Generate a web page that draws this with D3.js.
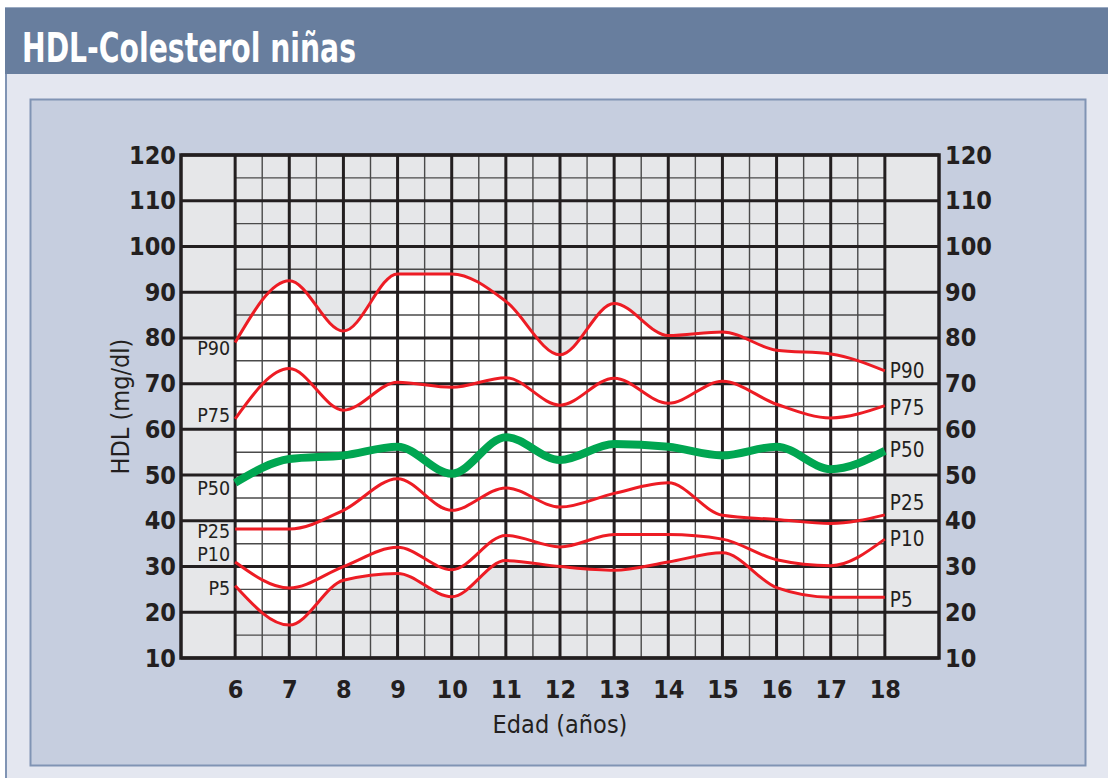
<!DOCTYPE html>
<html>
<head>
<meta charset="utf-8">
<script src="https://cdn.jsdelivr.net/npm/d3@7"></script>
<style>
  body { margin: 0; background: #fff; }
  svg text { font-family: "Liberation Sans Narrow", "DejaVu Sans Condensed", "Roboto", sans-serif; }
</style>
</head>
<body>
<script>
// data
var ages = [6, 7, 8, 9, 10, 11, 12, 13, 14, 15, 16, 17, 18];
var p90 = [79, 92.5, 81.5, 94, 94, 88, 76.3, 87.5, 80.5, 81.3, 77.3, 76.5, 72.8];
var p75 = [62.3, 73.3, 64.2, 70.3, 69.2, 71.3, 65.3, 71.2, 65.7, 70.5, 65.5, 62.5, 65.2];
var p50 = [48.3, 53.5, 54.3, 56.2, 50.3, 58.3, 53.3, 56.8, 56.2, 54.3, 56.2, 51.3, 55.3];
var p25 = [38.2, 38.2, 42.3, 49.2, 42.3, 47.2, 43, 46, 48.3, 41.2, 40.3, 39.4, 41.3];
var p10 = [31, 25.3, 30, 34.2, 29.3, 36.8, 34.3, 37, 37, 36, 31.5, 30.2, 36];
var p5 = [25.8, 17.2, 27, 28.5, 23.4, 31.3, 30, 29.2, 31, 33, 25.4, 23.3, 23.3];
var yTicks = [10, 20, 30, 40, 50, 60, 70, 80, 90, 100, 110, 120];

var series = [
    {name: "P90", values: p90},
    {name: "P75", values: p75},
    {name: "P50", values: p50},
    {name: "P25", values: p25},
    {name: "P10", values: p10},
    {name: "P5", values: p5}
];

// label nudges (px) so the tags don't overlap
var leftNudge = {P90: 6, P75: -4, P50: 5, P25: 2, P10: -8, P5: 2};
var rightNudge = {P90: 0, P75: 2, P50: -1, P25: -12, P10: 0, P5: 3};

var W = 1108, H = 778;

var svg = d3.select("body").append("svg")
    .attr("width", W)
    .attr("height", H);

// header band
svg.append("rect").attr("x", 5).attr("y", 7).attr("width", W - 5).attr("height", 67).attr("fill", "#687e9e");
svg.append("line").attr("x1", 5).attr("x2", W).attr("y1", 7.5).attr("y2", 7.5).attr("stroke", "#9aaac2").attr("stroke-width", 1);
svg.append("text")
    .attr("x", 22)
    .attr("y", 62)
    .attr("fill", "#fff")
    .attr("font-weight", "bold")
    .attr("font-size", 40)
    .attr("textLength", 334)
    .attr("lengthAdjust", "spacingAndGlyphs")
    .text("HDL-Colesterol niñas");

// light body and inner panel
svg.append("rect").attr("x", 5).attr("y", 74).attr("width", W - 5).attr("height", H - 74).attr("fill", "#e4e7f0");
svg.append("line").attr("x1", 6).attr("x2", 6).attr("y1", 74).attr("y2", H).attr("stroke", "#8094b4").attr("stroke-width", 2);
svg.append("rect")
    .attr("x", 30.5).attr("y", 99.5)
    .attr("width", 1055).attr("height", 666)
    .attr("fill", "#c6cedf")
    .attr("stroke", "#8094b4")
    .attr("stroke-width", 2);

var x = d3.scaleLinear().domain([5, 19]).range([181, 939]);
var y = d3.scaleLinear().domain([10, 120]).range([658, 155]);

var g = svg.append("g");

// grey background of the grid
g.append("rect")
    .attr("x", x(5)).attr("y", y(120))
    .attr("width", x(19) - x(5)).attr("height", y(10) - y(120))
    .attr("fill", "#e6e7e9");

// white band between P5 and P90
var curve = d3.curveMonotoneX;
var band = d3.area()
    .x(function(d, i) { return x(ages[i]); })
    .y0(function(d, i) { return y(p5[i]); })
    .y1(function(d, i) { return y(p90[i]); })
    .curve(curve);
g.append("path").datum(ages).attr("d", band).attr("fill", "#fff");

// minor grid
var minorX = d3.range(6.5, 18, 1);
var minorY = d3.range(15, 120, 10);
g.selectAll(".mx").data(minorX).enter().append("line")
    .attr("x1", d => x(d)).attr("x2", d => x(d))
    .attr("y1", y(120)).attr("y2", y(10))
    .attr("stroke", "#4a4a4a").attr("stroke-width", 1.4);
g.selectAll(".my").data(minorY).enter().append("line")
    .attr("x1", x(6)).attr("x2", x(18))
    .attr("y1", d => y(d)).attr("y2", d => y(d))
    .attr("stroke", "#4a4a4a").attr("stroke-width", 1.4);

// major grid
g.selectAll(".Mx").data(ages).enter().append("line")
    .attr("x1", d => x(d)).attr("x2", d => x(d))
    .attr("y1", y(120)).attr("y2", y(10))
    .attr("stroke", "#231f20").attr("stroke-width", 3);
g.selectAll(".My").data(yTicks).enter().append("line")
    .attr("x1", x(5)).attr("x2", x(19))
    .attr("y1", d => y(d)).attr("y2", d => y(d))
    .attr("stroke", "#231f20").attr("stroke-width", 3);
g.append("rect")
    .attr("x", x(5)).attr("y", y(120))
    .attr("width", x(19) - x(5)).attr("height", y(10) - y(120))
    .attr("fill", "none").attr("stroke", "#231f20").attr("stroke-width", 3.5);

// percentile curves
var line = d3.line()
    .x(function(d, i) { return x(ages[i]); })
    .y(function(d) { return y(d); })
    .curve(curve);

g.selectAll(".pc").data(series).enter().append("path")
    .attr("d", d => line(d.values))
    .attr("fill", "none")
    .attr("stroke", d => d.name == "P50" ? "#00a651" : "#ed1c24")
    .attr("stroke-width", d => d.name == "P50" ? 8 : 3)
    .attr("stroke-linejoin", "round");

// percentile labels
g.selectAll(".ll").data(series).enter().append("text")
    .attr("x", x(6) - 5)
    .attr("y", d => y(d.values[0]) + leftNudge[d.name])
    .attr("dy", "0.35em")
    .attr("text-anchor", "end")
    .attr("font-size", 19.5)
    .attr("fill", "#231f20")
    .text(d => d.name);
g.selectAll(".rl").data(series).enter().append("text")
    .attr("x", x(18) + 5)
    .attr("y", d => y(d.values[d.values.length - 1]) + rightNudge[d.name])
    .attr("dy", "0.35em")
    .attr("font-size", 20.5)
    .attr("fill", "#231f20")
    .text(d => d.name);

// axes
function styleAxis(sel) {
    sel.select(".domain").remove();
    sel.selectAll("text")
        .attr("font-size", 25)
        .attr("font-weight", "bold")
        .attr("fill", "#231f20");
}
svg.append("g")
    .attr("transform", "translate(" + x(5) + ",0)")
    .call(d3.axisLeft(y).tickValues(yTicks).tickSize(0).tickPadding(5))
    .call(styleAxis);
svg.append("g")
    .attr("transform", "translate(" + x(19) + ",0)")
    .call(d3.axisRight(y).tickValues(yTicks).tickSize(0).tickPadding(6))
    .call(styleAxis);
svg.append("g")
    .attr("transform", "translate(0," + y(10) + ")")
    .call(d3.axisBottom(x).tickValues(ages).tickFormat(d3.format("d")).tickSize(0).tickPadding(22))
    .call(styleAxis);

svg.append("text")
    .attr("x", x(12))
    .attr("y", 733)
    .attr("text-anchor", "middle")
    .attr("font-size", 25)
    .attr("fill", "#231f20")
    .text("Edad (años)");
svg.append("text")
    .attr("transform", "translate(129," + y(65) + ") rotate(-90)")
    .attr("text-anchor", "middle")
    .attr("font-size", 25)
    .attr("fill", "#231f20")
    .text("HDL (mg/dl)");
</script>
</body>
</html>
